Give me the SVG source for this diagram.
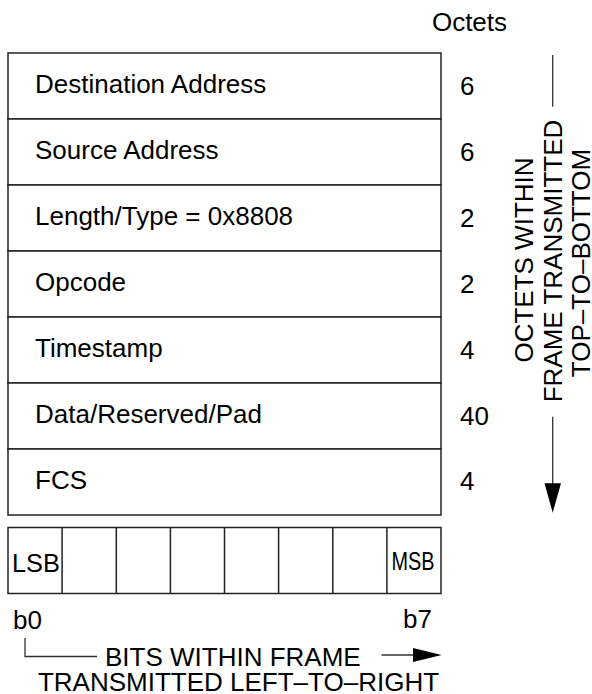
<svg xmlns="http://www.w3.org/2000/svg" width="592" height="694" viewBox="0 0 592 694">
<style>
text{font-family:"Liberation Sans",Arial,sans-serif;font-size:26px;fill:#000}
.box{fill:#fff;stroke:#222;stroke-width:1.5}
.ln{stroke:#222;stroke-width:1.5;fill:none}
.thin{stroke:#333;stroke-width:1.3;fill:none}
.head{fill:#000;stroke:none}
</style>
<rect width="592" height="694" fill="#fff"/>
<text id="octets-title" x="469.5" y="31" text-anchor="middle">Octets</text>
<g id="frame">
<g id="row-dest"><rect class="box" x="8" y="53" width="433" height="66"/><text x="35" y="93">Destination Address</text><text x="460" y="95">6</text></g>
<g id="row-src"><rect class="box" x="8" y="119" width="433" height="66"/><text x="35" y="159">Source Address</text><text x="460" y="161">6</text></g>
<g id="row-len"><rect class="box" x="8" y="185" width="433" height="66"/><text x="35" y="225">Length/Type = 0x8808</text><text x="460" y="227">2</text></g>
<g id="row-op"><rect class="box" x="8" y="251" width="433" height="66"/><text x="35" y="291">Opcode</text><text x="460" y="293">2</text></g>
<g id="row-ts"><rect class="box" x="8" y="317" width="433" height="66"/><text x="35" y="357">Timestamp</text><text x="460" y="359">4</text></g>
<g id="row-data"><rect class="box" x="8" y="383" width="433" height="66"/><text x="35" y="423">Data/Reserved/Pad</text><text x="460" y="425">40</text></g>
<g id="row-fcs"><rect class="box" x="8" y="449" width="433" height="66"/><text x="35" y="489">FCS</text><text x="460" y="490">4</text></g>
</g>
<g id="bits">
<rect class="box" x="8" y="527.5" width="433" height="66"/>
<path class="ln" d="M62.1 527.5V593.5M116.3 527.5V593.5M170.4 527.5V593.5M224.5 527.5V593.5M278.6 527.5V593.5M332.8 527.5V593.5M386.9 527.5V593.5"/>
<text x="12" y="572" font-size="24" textLength="48" lengthAdjust="spacingAndGlyphs">LSB</text>
<text x="391.5" y="570" font-size="23" textLength="43" lengthAdjust="spacingAndGlyphs">MSB</text>
</g>
<g id="bit-labels">
<text x="13" y="629">b0</text>
<text x="403" y="628">b7</text>
<text x="105" y="665.5">BITS WITHIN FRAME</text>
<text x="238.5" y="691" text-anchor="middle">TRANSMITTED LEFT–TO–RIGHT</text>
</g>
<g id="octet-labels">
<text transform="translate(533,260) rotate(-90)" text-anchor="middle">OCTETS WITHIN</text>
<text transform="translate(562,261) rotate(-90)" text-anchor="middle">FRAME TRANSMITTED</text>
<text transform="translate(590,263) rotate(-90)" text-anchor="middle">TOP–TO–BOTTOM</text>
</g>
<g id="connectors">
<path class="thin" d="M25 638V656.5H97"/>
<path class="thin" d="M381.5 655H415"/>
<polygon class="head" points="413,648 441.7,655 413,662"/>
<path class="thin" d="M552.7 55V106.7M552.7 416.7V485"/>
<polygon class="head" points="544.5,483.3 561,483.3 552.7,512.7"/>
</g>
</svg>
